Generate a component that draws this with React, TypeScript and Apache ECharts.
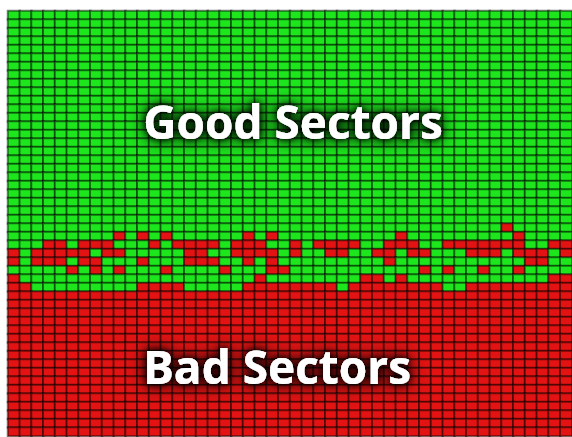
import React, { useEffect, useRef } from "react";
import * as echarts from "echarts";

// Disk surface map: 48 sectors across, 50 tracks down. 0 = good, 1 = bad.
const columnCount = 48;
const goodRowCount = 25; // rows fully good at the top
// Transition band (rows 25..32), G = good, R = bad
const transitionRows = [
  "GGGGGGGGGGGGGGGGGGGGGGGGGGGGGGGGGGGGGGGGGGRGGGGG",
  "GGGGGGGGGRGRGRGGGGGGRGRGGGGGGGGGGRGGGGGGGGGRGGGG",
  "GGGRRGRRRGGGRGRRRRGRRRGGRGRRRRGGRRRGGRRRRRRRGGRR",
  "RGRRRRRGRRGGGGGRRGGRRRRGRGGRRGGRRGRRGGGRRRGRRRGR",
  "RGRRRGRRGGGRGGGRRRGGRGRGGGGGGGGGRGGGGGGGGGGGRRGG",
  "GGGGGRGRGRGGGRGGGGRGGGRRGGGGGGGGGGGRGRGGRGGRGGGG",
  "RGGGGGGGGGGGGGGGGGGGGRGGGGGGGGRRGRGGGGGGGGGGGGRR",
  "RRGGGGGGGGGRRRRGGGGGRRRRRRRRGRRRRRRRRGGRRRRRRRRR",
];
const badRowCount = 17; // rows fully bad at the bottom
const regionLabels = ["Good Sectors", "Bad Sectors"];

export default function App() {
  const ref = useRef<HTMLDivElement>(null);

  useEffect(() => {
    document.body.style.margin = "0";
    if (!ref.current) return;
    const chart = echarts.init(ref.current, undefined, { renderer: "svg" });

    const rows: number[][] = [];
    for (let r = 0; r < goodRowCount; r++) rows.push(new Array(columnCount).fill(0));
    transitionRows.forEach((s) => rows.push(s.split("").map((ch) => (ch === "R" ? 1 : 0))));
    for (let r = 0; r < badRowCount; r++) rows.push(new Array(columnCount).fill(1));

    const data: number[][] = [];
    rows.forEach((row, r) => row.forEach((v, c) => data.push([c, r, v])));

    const xCats = Array.from({ length: columnCount }, (_, i) => String(i));
    const yCats = rows.map((_, i) => String(i));

    const textStyle = (txt: string, blur: number) => ({
      text: txt,
      font: 'bold 46px "Open Sans"',
      fill: "#ffffff",
      textAlign: "center",
      textVerticalAlign: "middle",
      textShadowColor: "rgba(0,0,0,1)",
      textShadowBlur: blur,
    });

    const label = (txt: string, x: number, y: number) => [
      { type: "text", x, y, z: 100, style: textStyle(txt, 22) },
      { type: "text", x, y, z: 101, style: textStyle(txt, 12) },
      { type: "text", x, y, z: 102, style: textStyle(txt, 6) },
    ];

    chart.setOption({
      animation: false,
      backgroundColor: "#ffffff",
      grid: { left: 8, top: 11, width: 564, height: 425, containLabel: false },
      xAxis: { type: "category", data: xCats, show: false },
      yAxis: { type: "category", data: yCats, inverse: true, show: false },
      visualMap: {
        show: false,
        type: "piecewise",
        dimension: 2,
        pieces: [
          { value: 0, color: "#1de61d" },
          { value: 1, color: "#e31313" },
        ],
      },
      series: [
        {
          type: "heatmap",
          data,
          itemStyle: { borderColor: "rgba(0,0,0,0.5)", borderWidth: 2 },
          emphasis: { disabled: true },
        },
      ],
      graphic: [
        ...label(regionLabels[0], 293, 121),
        ...label(regionLabels[1], 277, 366),
      ],
    });

    return () => chart.dispose();
  }, []);

  return <div ref={ref} style={{ width: 572, height: 437 }} />;
}
